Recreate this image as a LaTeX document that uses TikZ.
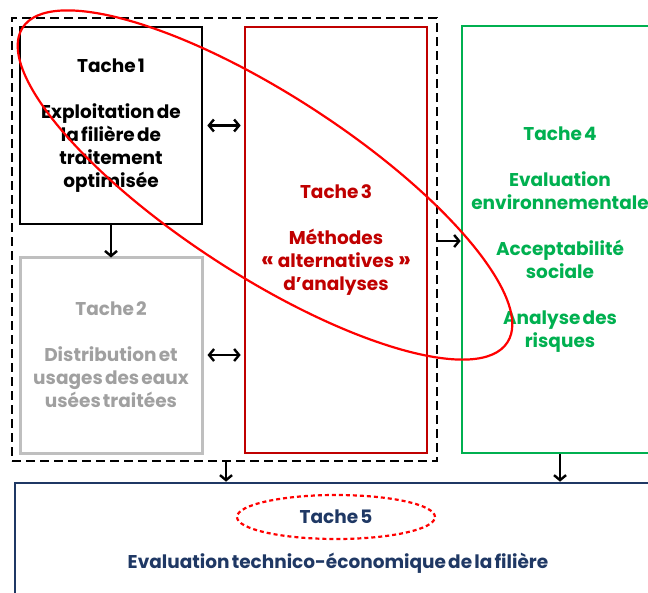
\documentclass[tikz,border=0pt]{standalone}
\usepackage{fontspec}
\setmainfont{Poppins}[WordSpace=0.55]
\usetikzlibrary{arrows.meta,shapes.geometric}
\definecolor{tgray}{HTML}{BFBFBF}
\definecolor{tgraytxt}{HTML}{A0A0A0}
\definecolor{tred}{HTML}{C00000}
\definecolor{tgreen}{HTML}{00B050}
\definecolor{tnavy}{HTML}{1F3864}
\newcommand{\bigq}[1]{{\fontsize{23}{23}\selectfont #1}}
\begin{document}
\begin{tikzpicture}[x=1pt,y=-1pt,
  tfont/.style={font=\bfseries\fontsize{18.5}{23}\selectfont},
  tbox/.style={draw, line width=2.6pt, rectangle, inner sep=0pt, align=center, tfont},
  arr/.style={draw=black, line width=2.4pt, -{Straight Barb[length=5pt,width=12pt]}},
  darr/.style={draw=black, line width=2.4pt, {Straight Barb[length=5pt,width=12pt]}-{Straight Barb[length=5pt,width=12pt]}}
]
\useasboundingbox (0,0) rectangle (648,592);
\clip (0,0) rectangle (648,592);

% dashed container
\node[draw, dash pattern=on 9pt off 5pt, line width=2.6pt, rectangle, inner sep=0pt,
  minimum width=425pt, minimum height=443pt] (grp) at (224.5,239.5) {};

\node[tbox, draw=black, text=black, minimum width=182pt, minimum height=197pt] (t1) at (111,125.5)
  {Tache 1\\[23pt]Exploitation de\\la filière de\\traitement\\optimisée};
\node[tbox, draw=tgray, text=tgraytxt, line width=3pt, minimum width=182pt, minimum height=196pt] (t2) at (111,355)
  {Tache 2\\[23pt]Distribution et\\usages des eaux\\usées traitées};
\node[tbox, draw=tred, text=tred, minimum width=182pt, minimum height=426pt] (t3) at (336,240)
  {Tache 3\\[23pt]Méthodes\\\bigq{«}\hspace{4pt}alternatives\hspace{4pt}\bigq{»}\\d’analyses};
\node[tbox, draw=tgreen, text=tgreen, minimum width=196pt, minimum height=427pt] (t4) at (560,239.5)
  {Tache 4\\[23pt]Evaluation\\environnementale\\[23pt]Acceptabilité\\sociale\\[23pt]Analyse des\\risques};
\node[draw=tnavy, line width=2.6pt, rectangle, inner sep=0pt, minimum width=646pt, minimum height=150pt] (t5) at (338,558) {};

\node[ellipse, draw=red, dash pattern=on 4pt off 3pt, line width=2.2pt, inner sep=0pt,
  minimum width=198pt, minimum height=44pt, text=tnavy, tfont] (e5) at (336,517) {Tache 5};
\node[text=tnavy, tfont] (t5txt) at (338,563) {Evaluation technico-économique de la filière};

% arrows
\draw[darr] ([xshift=4pt]t1.east) -- ([xshift=-3pt]t1.east -| t3.west);
\draw[darr] ([xshift=4pt]t2.east) -- ([xshift=-3pt]t2.east -| t3.west);
\draw[arr] ([yshift=2pt]t1.south) -- ([yshift=-2pt]t2.north);
\draw[arr] ([yshift=-1.5pt]grp.east) -- ([yshift=-1.5pt]grp.east -| t4.west);
\draw[arr] ([xshift=1.5pt]grp.south) -- ([xshift=1.5pt]grp.south |- t5.north);
\draw[arr] (t4.south) -- (t4.south |- t5.north);

% highlight ellipse
\coordinate (ec) at (265,185);
\draw[red, line width=2.2pt, rotate around={-33:(ec)}] (ec) ellipse [x radius=289, y radius=90];
\end{tikzpicture}
\end{document}
